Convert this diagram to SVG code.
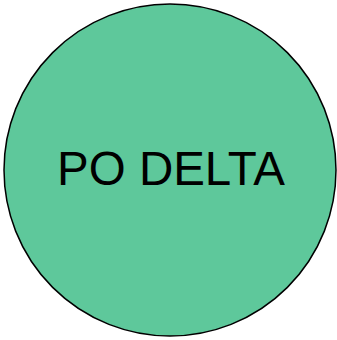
<svg xmlns="http://www.w3.org/2000/svg" width="337" height="340" viewBox="0 0 337 340">
<style>
.node { fill: #5ec89b; stroke: #000; stroke-width: 1.5; }
.label { font-family: "Liberation Sans", Arial, sans-serif; font-size: 47.5px; fill: #000; text-anchor: middle; }
</style>
<g id="connectors"></g>
<g id="po-delta">
<circle class="node" cx="170" cy="170" r="166"/>
<text class="label" x="171" y="184.5">PO DELTA</text>
</g>
</svg>
